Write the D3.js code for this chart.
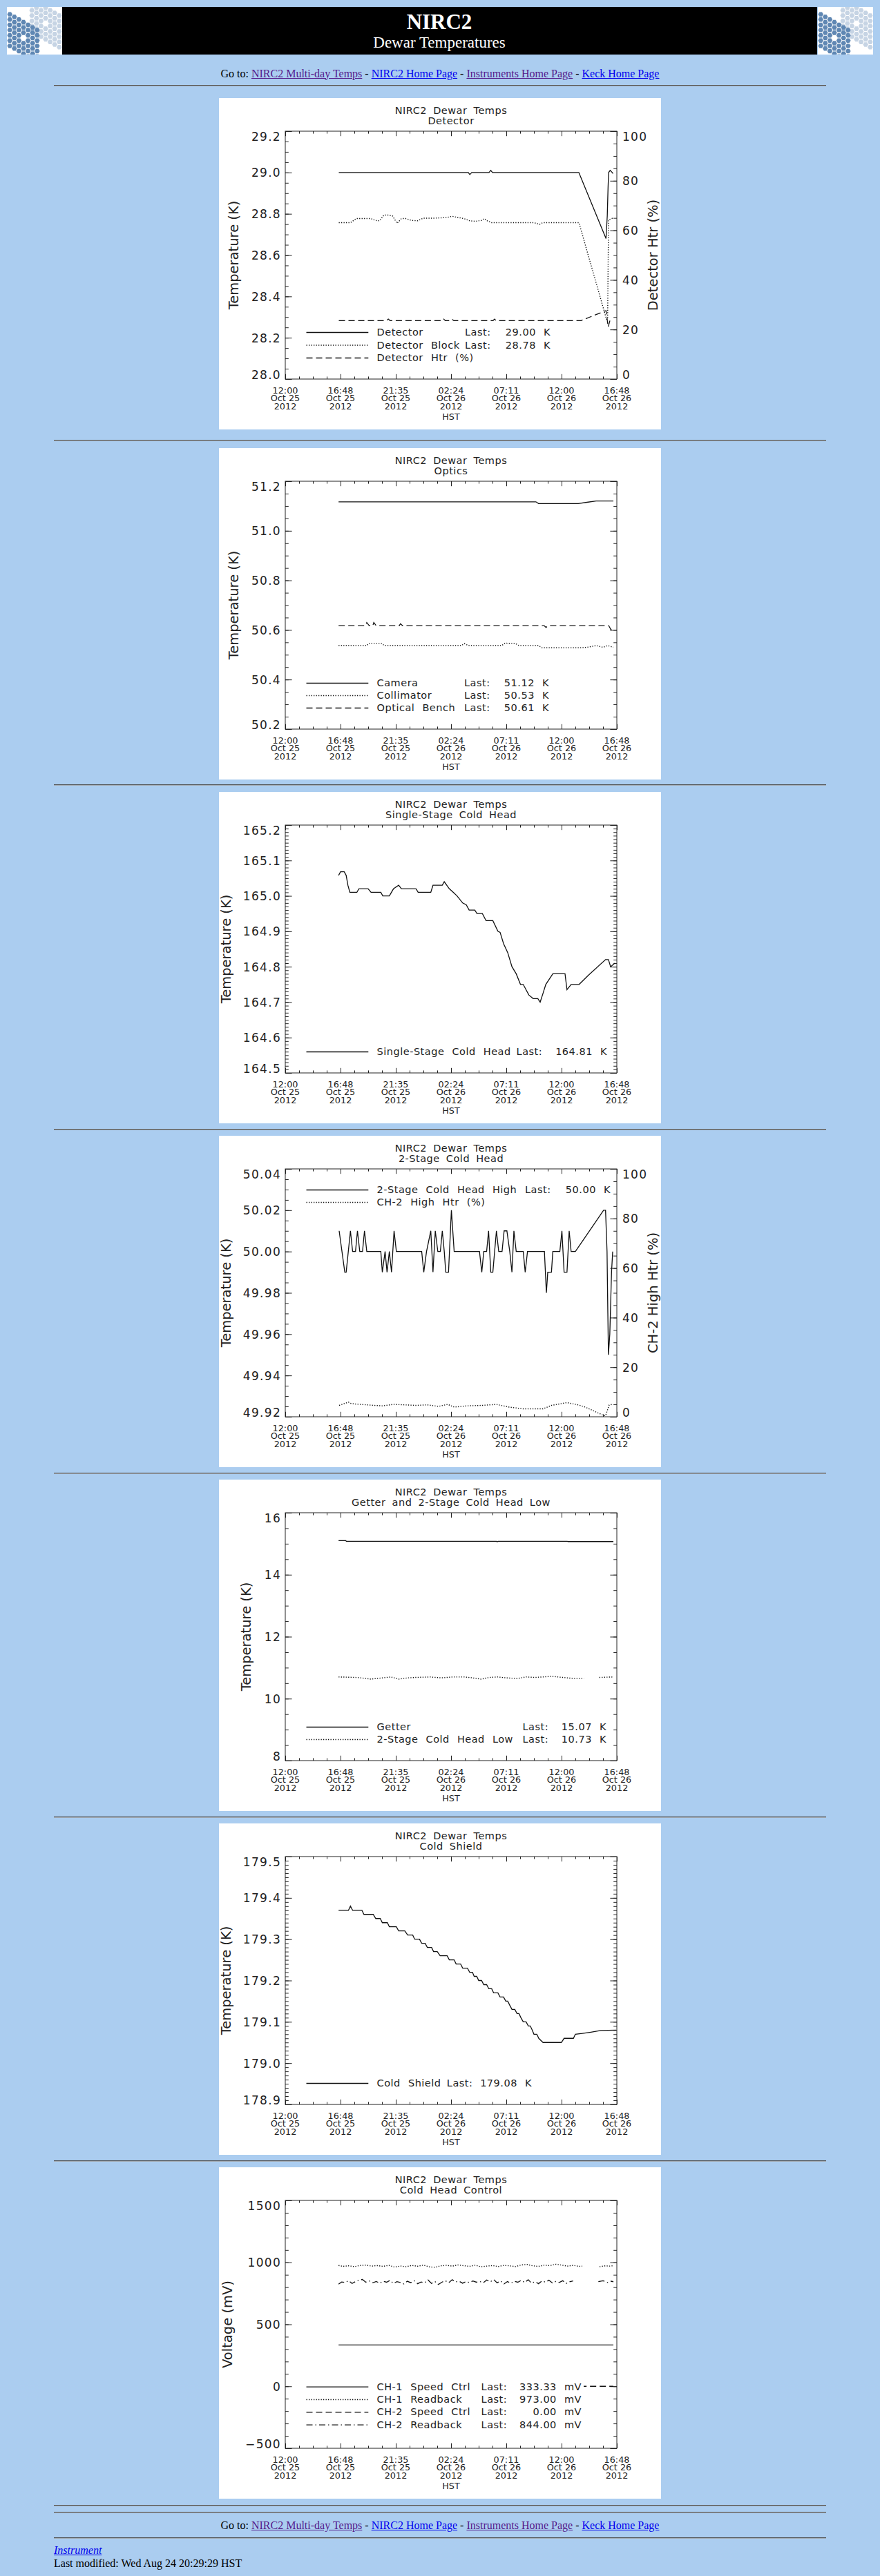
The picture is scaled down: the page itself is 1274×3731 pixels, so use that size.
<!DOCTYPE html>
<html>
<head>
<meta charset="utf-8">
<title>NIRC2 Dewar Temperatures</title>
<script src="https://cdn.jsdelivr.net/npm/d3@7"></script>
<style>
  body { margin: 0; background: #abcdf0; width: 1274px; height: 3731px; position: relative;
         font-family: "Liberation Serif", "Times New Roman", serif; font-size: 16px; overflow: hidden; }
  .line16 { position: absolute; line-height: 20px; white-space: nowrap; }
  .goto { left: 0; width: 1274px; text-align: center; }
  a { color: #0000ee; }
  a.v { color: #551a8b; }
  .hr { position: absolute; left: 78px; width: 1118px; height: 0; border-top: 1px solid #505050; border-bottom: 1px solid #a0a8b0; }
  svg.panel { position: absolute; left: 317px; }
  svg.panel text { font-family: "DejaVu Sans", sans-serif; fill: #222; }
  .ttl { font-size: 14.5px; letter-spacing: 0.5px; word-spacing: 4px; text-anchor: middle; }
  .lg { font-size: 14.5px; letter-spacing: 0.5px; word-spacing: 6px; }
  .xl { font-size: 12.8px; text-anchor: middle; }
  .ytl { font-size: 19.5px; text-anchor: middle; }
</style>
</head>
<body>
<svg id="banner" width="1274" height="90" style="position:absolute;left:0;top:0"></svg>
<div class="line16 goto" style="top:96.5px">Go to: <a class="v" href="#">NIRC2 Multi-day Temps</a> - <a href="#">NIRC2 Home Page</a> - <a class="v" href="#">Instruments Home Page</a> - <a href="#">Keck Home Page</a></div>
<div class="hr" style="top:123px"></div>

<div class="hr" style="top:3628px"></div>
<div class="hr" style="top:3638px"></div>
<div class="line16 goto" style="top:3648px">Go to: <a class="v" href="#">NIRC2 Multi-day Temps</a> - <a href="#">NIRC2 Home Page</a> - <a class="v" href="#">Instruments Home Page</a> - <a href="#">Keck Home Page</a></div>
<div class="hr" style="top:3675px"></div>
<div class="line16" style="left:78px;top:3684px"><a href="#"><i>Instrument</i></a></div>
<div class="line16" style="left:78px;top:3703px">Last modified: Wed Aug 24 20:29:29 HST</div>

<script>
// ---- time axis: hours since 12:00 Oct 25 2012 (HST) ----
const xDomain = [0, 28.8];
const xMajorStep = 4.8;   // 4h48m
const xMinorStep = 1.2;
const xTickLabels = [
  ['12:00', 'Oct 25', '2012'], ['16:48', 'Oct 25', '2012'], ['21:35', 'Oct 25', '2012'],
  ['02:24', 'Oct 26', '2012'], ['07:11', 'Oct 26', '2012'], ['12:00', 'Oct 26', '2012'],
  ['16:48', 'Oct 26', '2012']
];
const mainTitle = 'NIRC2 Dewar Temps';

// ---- Detector ----
const detector = [[4.65, 29.00], [15.9, 29.00], [16.03, 28.99], [16.2, 29.00], [17.7, 29.00], [17.85, 29.01],
  [18.0, 29.00], [25.5, 29.00], [27.86, 28.68], [27.97, 28.79], [28.04, 28.93], [28.09, 29.00], [28.22, 29.01],
  [28.4, 29.00], [28.47, 28.995]];
const detectorBlock = [[4.65, 28.757], [5.66, 28.757], [6.17, 28.777], [7.43, 28.777], [7.81, 28.768], [8.19, 28.766],
  [8.57, 28.794], [8.95, 28.794], [9.33, 28.789], [9.71, 28.754], [10.09, 28.777], [10.47, 28.777], [10.97, 28.768],
  [11.48, 28.766], [11.99, 28.779], [13.0, 28.779], [14.01, 28.782], [14.51, 28.788], [15.02, 28.782], [15.52, 28.777],
  [16.03, 28.766], [16.54, 28.764], [17.04, 28.768], [17.29, 28.777], [17.55, 28.766], [17.93, 28.757], [21.59, 28.757],
  [22.1, 28.749], [22.35, 28.757], [25.51, 28.757], [27.9, 28.29], [28.0, 28.29], [28.08, 28.77], [28.47, 28.78]];
const detectorHtr = [[4.65, 23.6], [8.8, 23.6], [8.95, 24.2], [9.1, 23.6], [13.6, 23.6], [13.75, 24.2], [13.9, 23.6],
  [14.4, 23.6], [14.51, 24.0], [14.65, 23.6], [18.05, 23.6], [18.18, 24.2], [18.3, 23.6], [25.7, 23.6], [27.7, 27.3],
  [27.86, 27.6], [28.05, 21.0], [28.2, 23.6], [28.47, 24.0]];
const detectorNames = ['Detector', 'Detector Block', 'Detector Htr (%)'];
const detectorLast = [29.00, 28.78, null];

// ---- Optics ----
const camera = [[4.63, 51.117], [21.77, 51.117], [22.0, 51.11], [25.45, 51.11], [26.2, 51.115], [27.0, 51.12], [28.5, 51.12]];
const collimator = [[4.63, 50.537], [7.1, 50.537], [7.2, 50.545], [8.4, 50.545], [8.6, 50.537], [15.3, 50.537],
  [15.55, 50.545], [15.9, 50.537], [18.8, 50.537], [19.1, 50.547], [20.0, 50.545], [20.3, 50.537], [22.0, 50.537],
  [22.3, 50.528], [25.6, 50.528], [26.2, 50.53], [27.0, 50.537], [27.6, 50.53], [28.0, 50.537], [28.5, 50.53]];
const opticalBench = [[4.63, 50.617], [6.95, 50.617], [7.08, 50.63], [7.3, 50.617], [7.6, 50.617], [7.69, 50.63],
  [7.9, 50.617], [9.9, 50.617], [10.0, 50.625], [10.2, 50.617], [22.5, 50.617], [22.65, 50.61], [22.8, 50.617],
  [28.1, 50.617], [28.3, 50.60], [28.5, 50.61]];
const opticsNames = ['Camera', 'Collimator', 'Optical Bench'];
const opticsLast = [51.12, 50.53, 50.61];

// ---- Single-stage cold head ----
const singleStage = [[4.63, 165.058], [4.80, 165.068], [5.12, 165.068], [5.29, 165.058], [5.44, 165.03], [5.61, 165.01],
  [6.22, 165.01], [6.39, 165.02], [7.20, 165.02], [7.45, 165.01], [8.30, 165.01], [8.47, 165.00], [9.04, 165.00],
  [9.40, 165.02], [9.85, 165.03], [10.09, 165.02], [11.36, 165.02], [11.54, 165.01], [12.64, 165.01], [12.83, 165.03],
  [13.64, 165.03], [13.81, 165.04], [14.25, 165.02], [14.60, 165.01], [14.92, 165.00], [15.41, 164.98], [15.72, 164.975],
  [15.97, 164.96], [16.46, 164.96], [16.65, 164.95], [17.12, 164.95], [17.44, 164.93], [18.03, 164.93], [18.47, 164.90],
  [18.66, 164.897], [18.96, 164.865], [19.32, 164.84], [19.69, 164.80], [20.06, 164.78], [20.43, 164.75], [20.67, 164.75],
  [21.16, 164.72], [21.53, 164.71], [21.94, 164.71], [22.14, 164.70], [22.39, 164.725], [22.63, 164.75], [23.24, 164.78],
  [24.30, 164.78], [24.47, 164.735], [24.83, 164.75], [25.52, 164.75], [26.30, 164.775], [27.82, 164.82], [28.07, 164.82],
  [28.26, 164.80], [28.63, 164.81]];
const singleNames = ['Single-Stage Cold Head'];
const singleLast = [164.81];

// ---- 2-stage cold head ----
const twoStageHigh = [[4.68, 50.01], [5.17, 49.99], [5.29, 49.99], [5.66, 50.01], [5.85, 50.00], [6.10, 50.00], [6.27, 50.01],
  [6.47, 50.00], [6.71, 50.00], [6.88, 50.01], [7.08, 50.00], [8.30, 50.00], [8.43, 49.99], [8.67, 50.00], [8.84, 49.99],
  [9.04, 50.00], [9.23, 49.99], [9.45, 50.01], [9.65, 50.00], [11.85, 50.00], [12.03, 49.99], [12.27, 50.00], [12.64, 50.01],
  [12.83, 49.99], [13.03, 50.01], [13.25, 50.00], [13.47, 50.00], [13.64, 50.01], [13.81, 50.00], [13.94, 49.99],
  [14.18, 49.99], [14.43, 50.02], [14.67, 50.00], [16.87, 50.00], [17.07, 49.99], [17.24, 50.00], [17.49, 50.00],
  [17.66, 50.01], [17.85, 49.99], [18.03, 49.99], [18.34, 50.01], [18.54, 50.00], [18.83, 50.00], [19.01, 50.01],
  [19.25, 50.01], [19.50, 50.00], [19.69, 49.99], [19.86, 50.01], [20.06, 50.00], [20.67, 50.00], [20.84, 49.99],
  [21.04, 50.00], [22.51, 50.00], [22.68, 49.98], [22.80, 49.99], [23.12, 49.99], [23.24, 50.00], [23.85, 50.00],
  [24.03, 50.01], [24.22, 49.99], [24.47, 49.99], [24.66, 50.01], [24.83, 50.00], [25.20, 50.00], [27.65, 50.02],
  [27.82, 50.02], [27.95, 50.00], [28.02, 49.97], [28.07, 49.95], [28.19, 49.96], [28.34, 49.99], [28.44, 50.00]];
const ch2HighHtr = [[4.68, 4.6], [5.49, 5.9], [5.73, 5.3], [6.47, 5.0], [7.69, 4.6], [8.43, 4.4], [9.40, 5.0], [11.36, 4.6],
  [12.34, 4.8], [13.32, 4.2], [14.11, 5.0], [14.67, 3.9], [15.77, 4.4], [17.12, 4.6], [18.34, 5.0], [19.45, 3.9],
  [20.67, 3.2], [22.39, 3.2], [23.12, 4.6], [24.47, 5.7], [25.45, 4.8], [26.06, 3.9], [27.53, 0.8], [27.82, 0.4],
  [28.14, 4.8], [28.44, 5.0]];
const twoStageNames = ['2-Stage Cold Head High', 'CH-2 High Htr (%)'];
const twoStageLast = [50.00, null];

// ---- Getter and 2-stage low ----
const getter = [[4.63, 15.10], [5.25, 15.10], [5.3, 15.08], [18.35, 15.08], [18.4, 15.06], [18.5, 15.08], [24.5, 15.08],
  [24.55, 15.07], [28.5, 15.07]];
const twoStageLow = [[4.63, 10.70], [6.10, 10.685], [6.59, 10.67], [7.45, 10.63], [8.43, 10.67], [9.16, 10.70], [9.89, 10.63],
  [10.63, 10.67], [11.36, 10.685], [12.59, 10.70], [13.57, 10.67], [14.55, 10.70], [15.53, 10.70], [16.26, 10.67],
  [17.0, 10.63], [17.73, 10.685], [18.47, 10.70], [19.2, 10.67], [20.18, 10.65], [20.92, 10.70], [21.65, 10.685],
  [22.39, 10.70], [23.12, 10.72], [24.1, 10.685], [25.08, 10.65], [25.94, 10.65], [26.2, null], [27.28, 10.685], [28.5, 10.70]];
const getterNames = ['Getter', '2-Stage Cold Head Low'];
const getterLast = [15.07, 10.73];

// ---- Cold shield ----
const coldShield = [[4.63, 179.37], [5.49, 179.37], [5.66, 179.38], [5.85, 179.37], [6.66, 179.37], [6.83, 179.36],
  [7.64, 179.36], [7.86, 179.35], [8.25, 179.35], [8.43, 179.34], [8.87, 179.34], [9.04, 179.33], [9.65, 179.33],
  [9.85, 179.32], [10.38, 179.32], [10.63, 179.31], [11.07, 179.31], [11.24, 179.30], [11.66, 179.30], [11.85, 179.29],
  [12.15, 179.29], [12.34, 179.28], [12.71, 179.28], [12.88, 179.27], [13.20, 179.27], [13.45, 179.26], [14.06, 179.26],
  [14.25, 179.25], [14.67, 179.25], [14.84, 179.24], [15.23, 179.24], [15.41, 179.23], [15.82, 179.23], [16.02, 179.22],
  [16.26, 179.22], [16.41, 179.21], [16.63, 179.21], [16.80, 179.20], [17.05, 179.20], [17.24, 179.19], [17.49, 179.19],
  [17.68, 179.18], [17.93, 179.18], [18.10, 179.17], [18.47, 179.17], [18.66, 179.16], [18.96, 179.16], [19.15, 179.15],
  [19.32, 179.15], [19.50, 179.14], [19.69, 179.13], [19.94, 179.13], [20.13, 179.12], [20.30, 179.12], [20.47, 179.11],
  [20.67, 179.10], [20.92, 179.10], [21.11, 179.09], [21.28, 179.09], [21.45, 179.08], [21.60, 179.07], [21.85, 179.07],
  [22.02, 179.06], [22.39, 179.05], [23.98, 179.05], [24.22, 179.06], [25.03, 179.06], [25.20, 179.07], [25.81, 179.072],
  [26.55, 179.075], [27.41, 179.079], [28.75, 179.08]];
const coldShieldNames = ['Cold Shield'];
const coldShieldLast = [179.08];

// ---- Cold head control (mV) ----
const ch1Speed = [[4.63, 333.33], [28.5, 333.33]];
const ch1Readback = [[4.63, 975], [5.0, 968], [5.5, 972], [6.0, 966], [6.5, 975], [7.0, 978], [7.5, 970], [8.0, 974],
  [8.5, 968], [9.0, 976], [9.5, 962], [10.0, 971], [10.5, 965], [11.0, 975], [11.5, 969], [12.0, 978], [12.5, 964],
  [13.0, 960], [13.5, 972], [14.0, 976], [14.5, 970], [15.0, 979], [15.5, 973], [16.0, 968], [16.5, 977], [17.0, 965],
  [17.5, 970], [18.0, 974], [18.5, 967], [19.0, 976], [19.5, 972], [20.0, 966], [20.5, 979], [21.0, 983], [21.5, 972],
  [22.0, 968], [22.5, 977], [23.0, 974], [23.5, 985], [24.0, 978], [24.5, 970], [25.0, 976], [25.5, 968], [25.8, 970],
  [26.0, null], [27.3, 965], [27.8, 972], [28.2, 970], [28.5, 973]];
const ch2Speed = [[4.63, 0], [28.5, 0]];
const ch2Readback = [[4.63, 825], [4.9, 842], [5.2, 838], [5.5, 852], [5.8, 830], [6.1, 845], [6.4, 858], [6.7, 862],
  [7.0, 840], [7.3, 850], [7.6, 835], [7.9, 846], [8.2, 832], [8.5, 848], [8.8, 840], [9.1, 855], [9.4, 830], [9.7, 845],
  [10.0, 838], [10.3, 826], [10.6, 848], [10.9, 836], [11.2, 852], [11.5, 828], [11.8, 842], [12.1, 835], [12.4, 858],
  [12.7, 830], [13.0, 846], [13.3, 822], [13.6, 840], [13.9, 852], [14.2, 836], [14.5, 860], [14.8, 842], [15.1, 848],
  [15.4, 832], [15.7, 845], [16.0, 838], [16.3, 850], [16.6, 840], [16.9, 846], [17.2, 835], [17.5, 858], [17.8, 842],
  [18.1, 862], [18.4, 835], [18.7, 850], [19.0, 826], [19.3, 845], [19.6, 832], [19.9, 848], [20.2, 840], [20.5, 855],
  [20.8, 838], [21.1, 860], [21.4, 832], [21.7, 845], [22.0, 828], [22.3, 850], [22.6, 840], [22.9, 856], [23.2, 834],
  [23.5, 846], [23.8, 838], [24.1, 852], [24.4, 830], [24.7, 844], [25.0, 850], [25.2, null], [25.8, 840], [26.0, null],
  [27.2, 845], [27.6, 852], [28.0, 838], [28.3, 848], [28.5, 844]];
const controlNames = ['CH-1 Speed Ctrl', 'CH-1 Readback', 'CH-2 Speed Ctrl', 'CH-2 Readback'];
const controlLast = [333.33, 973.00, 0.00, 844.00];

// ---- chart layout (image pixel frame 640 x 480 like the IDL plots) ----
const P = {left: 96, right: 576, top: 48, bottom: 407};
const dashes = {solid: null, dot: '1.3 2.2', dash: '9 5', dashdot: '9 4 1.5 4'};

const charts = [
  {top: 142, sub: 'Detector', yDomain: [28.0, 29.2], yStep: 0.2, yMinor: 0.05, yFmt: '.1f', yTitle: 'Temperature (K)', yTitleX: 28.4,
   right: {domain: [0, 100], step: 20, minor: 5, fmt: 'd', title: 'Detector Htr (%)', titleX: 635},
   series: [{data: detector, style: 'solid'}, {data: detectorBlock, style: 'dot'}, {data: detectorHtr, style: 'dash', axis: 'right'}],
   legend: {names: detectorNames, last: detectorLast, styles: ['solid', 'dot', 'dash'], y: [344, 362.5, 381], lastX: 356, valEnd: 480, unit: 'K', fmt: '.2f'}},
  {top: 649, sub: 'Optics', yDomain: [50.2, 51.2], yStep: 0.2, yMinor: 0.05, yFmt: '.1f', yTitle: 'Temperature (K)', yTitleX: 27.5,
   series: [{data: camera, style: 'solid'}, {data: collimator, style: 'dot'}, {data: opticalBench, style: 'dash'}],
   legend: {names: opticsNames, last: opticsLast, styles: ['solid', 'dot', 'dash'], y: [345, 363, 381], lastX: 355, valEnd: 478, unit: 'K', fmt: '.2f'}},
  {top: 1147, sub: 'Single-Stage Cold Head', yDomain: [164.5, 165.2], yStep: 0.1, yMinor: 0.01, yFmt: '.1f', yTitle: 'Temperature (K)', yTitleX: 17,
   series: [{data: singleStage, style: 'solid'}],
   legend: {names: singleNames, last: singleLast, styles: ['solid'], y: [381], lastX: 430.6, valEnd: 562, unit: 'K', fmt: '.2f'}},
  {top: 1645, sub: '2-Stage Cold Head', yDomain: [49.92, 50.04], yStep: 0.02, yMinor: 0.005, yFmt: '.2f', yTitle: 'Temperature (K)', yTitleX: 17,
   right: {domain: [0, 100], step: 20, minor: 5, fmt: 'd', title: 'CH-2 High Htr (%)', titleX: 635},
   series: [{data: twoStageHigh, style: 'solid'}, {data: ch2HighHtr, style: 'dot', axis: 'right'}],
   legend: {names: twoStageNames, last: twoStageLast, styles: ['solid', 'dot'], y: [83, 101], lastX: 443, valEnd: 567, unit: 'K', fmt: '.2f'}},
  {top: 2143, sub: 'Getter and 2-Stage Cold Head Low', yDomain: [8, 16], yStep: 2, yMinor: 0.5, yFmt: 'd', yTitle: 'Temperature (K)', yTitleX: 46,
   series: [{data: getter, style: 'solid'}, {data: twoStageLow, style: 'dot'}],
   legend: {names: getterNames, last: getterLast, styles: ['solid', 'dot'], y: [363, 381], lastX: 439.5, valEnd: 561, unit: 'K', fmt: '.2f'}},
  {top: 2641, sub: 'Cold Shield', yDomain: [178.9, 179.5], yStep: 0.1, yMinor: 0.01, yFmt: '.1f', yTitle: 'Temperature (K)', yTitleX: 17,
   series: [{data: coldShield, style: 'solid'}],
   legend: {names: coldShieldNames, last: coldShieldLast, styles: ['solid'], y: [381], lastX: 329.8, valEnd: 453, unit: 'K', fmt: '.2f'}},
  {top: 3139, sub: 'Cold Head Control', yDomain: [-500, 1500], yStep: 500, yMinor: 100, yFmt: 'd', yTitle: 'Voltage (mV)', yTitleX: 19.4,
   series: [{data: ch1Speed, style: 'solid'}, {data: ch1Readback, style: 'dot'}, {data: ch2Speed, style: 'dash'}, {data: ch2Readback, style: 'dashdot'}],
   legend: {names: controlNames, last: controlLast, styles: ['solid', 'dot', 'dash', 'dashdot'], y: [322.7, 341, 359.3, 377.7], lastX: 379.6, valEnd: 525, unit: 'mV', fmt: '.2f'}}
];
const hrTops = [637, 1136, 1635, 2133, 2631, 3129];

// ---- banner ----
const banner = d3.select('#banner');
function drawLogo(x0) {
  const g = banner.append('g').attr('transform', `translate(${x0},10)`);
  const cid = 'logo' + x0;
  g.append('clipPath').attr('id', cid).append('rect').attr('width', 80).attr('height', 69);
  g.append('rect').attr('width', 80).attr('height', 69).attr('fill', '#fff');
  const inner = g.append('g').attr('clip-path', `url(#${cid})`);
  const cells = [];
  for (let q = -3; q <= 3; q++) for (let r = -3; r <= 3; r++) {
    const d = Math.max(Math.abs(q), Math.abs(r), Math.abs(q + r));
    if (d >= 1) cells.push([q, r]);
  }
  const s = 4.4;
  const hex = (cx, cy, rr) => d3.range(6).map(k => {
    const a = Math.PI / 3 * k;
    return [cx + rr * Math.cos(a), cy + rr * Math.sin(a)];
  });
  [[56, 24, '#c6d4e4'], [24, 45, '#5f87b3']].forEach(([mx, my, col]) => {
    inner.selectAll(null).data(cells).join('polygon')
      .attr('points', ([q, r]) => hex(mx + s * 1.5 * q, my + s * Math.sqrt(3) * (r + q / 2), s * 0.86).join(' '))
      .attr('fill', col);
  });
}
drawLogo(10);
drawLogo(1184);
banner.append('rect').attr('x', 90).attr('y', 10).attr('width', 1093).attr('height', 69).attr('fill', '#000');
banner.append('text').attr('x', 636).attr('y', 42).attr('text-anchor', 'middle').attr('fill', '#fff')
  .style('font-family', '"Liberation Serif", serif').style('font-size', '31px').style('font-weight', 'bold').text('NIRC2');
banner.append('text').attr('x', 636).attr('y', 69).attr('text-anchor', 'middle').attr('fill', '#fff')
  .style('font-family', '"Liberation Serif", serif').style('font-size', '23px').text('Dewar Temperatures');

hrTops.forEach(t => d3.select('body').append('div').attr('class', 'hr').style('top', t + 'px'));

// ---- charts ----
const x = d3.scaleLinear().domain(xDomain).range([P.left, P.right]);
const xMajors = d3.range(xTickLabels.length).map(i => i * xMajorStep);
const xMinors = d3.range(Math.round(xDomain[1] / xMinorStep) + 1).map(i => i * xMinorStep);

function stepTicks(domain, step) {
  const n = Math.round((domain[1] - domain[0]) / step);
  return d3.range(n + 1).map(i => domain[0] + i * step);
}

function styleAxis(g) {
  g.attr('color', '#222').attr('font-family', null).attr('font-size', null);
  g.select('.domain').remove();
}

function yAxis(svg, scale, side, step, minor, fmt) {
  const xPos = side === 'left' ? P.left : P.right;
  const mk = side === 'left' ? d3.axisLeft : d3.axisRight;
  svg.append('g').attr('transform', `translate(${xPos},0)`)
    .call(mk(scale).tickValues(stepTicks(scale.domain(), minor)).tickSize(-4.8).tickFormat(''))
    .call(styleAxis);
  const g = svg.append('g').attr('transform', `translate(${xPos},0)`)
    .call(mk(scale).tickValues(stepTicks(scale.domain(), step)).tickSize(-9.6).tickPadding(side === 'left' ? 6 : 8)
      .tickFormat(fmt ? d3.format(fmt) : ''))
    .call(styleAxis);
  const texts = g.selectAll('text')
    .text(function () { return this.textContent.replace('-', '\u2212'); })
    .style('font-size', '17px').style('letter-spacing', '1.3px');
  const n = texts.size();
  texts.attr('dy', (d, i) => i === 0 ? '-0.02em' : i === n - 1 ? '0.8em' : '0.36em');
  return g;
}

charts.forEach((c, ci) => {
  const svg = d3.select('body').append('svg').attr('class', 'panel')
    .style('top', c.top + 'px').attr('width', 640).attr('height', 480);
  svg.append('rect').attr('width', 640).attr('height', 480).attr('fill', '#fff');

  const y = d3.scaleLinear().domain(c.yDomain).range([P.bottom, P.top]);
  const yR = c.right ? d3.scaleLinear().domain(c.right.domain).range([P.bottom, P.top]) : null;

  svg.append('text').attr('class', 'ttl').attr('x', 336).attr('y', 23.3).text(mainTitle);
  svg.append('text').attr('class', 'ttl').attr('x', 336).attr('y', 37.7).text(c.sub);

  // x ticks, bottom and top
  [[d3.axisBottom, P.bottom], [d3.axisTop, P.top]].forEach(([mk, yy]) => {
    svg.append('g').attr('transform', `translate(0,${yy})`)
      .call(mk(x).tickValues(xMinors).tickSize(-3.6).tickFormat('')).call(styleAxis);
    svg.append('g').attr('transform', `translate(0,${yy})`)
      .call(mk(x).tickValues(xMajors).tickSize(-7.2).tickFormat('')).call(styleAxis);
  });
  const xl = svg.append('g').selectAll('text').data(xTickLabels).join('text')
    .attr('class', 'xl').attr('x', (d, i) => x(xMajors[i]));
  [427.7, 439.3, 450.7].forEach((yy, k) => {
    xl.append('tspan').attr('x', (d, i) => x(xMajors[i])).attr('y', yy).text(d => d[k]);
  });
  svg.append('text').attr('class', 'xl').attr('x', 336).attr('y', 466).text('HST');

  // y axes
  yAxis(svg, y, 'left', c.yStep, c.yMinor, c.yFmt);
  svg.append('text').attr('class', 'ytl')
    .attr('transform', `translate(${c.yTitleX},${(P.top + P.bottom) / 2}) rotate(-90)`).text(c.yTitle);
  if (c.right) {
    yAxis(svg, yR, 'right', c.right.step, c.right.minor, c.right.fmt);
    svg.append('text').attr('class', 'ytl')
      .attr('transform', `translate(${c.right.titleX},${(P.top + P.bottom) / 2}) rotate(-90)`).text(c.right.title);
  } else {
    yAxis(svg, y, 'right', c.yStep, c.yMinor, null);
  }
  svg.append('rect').attr('x', P.left).attr('y', P.top).attr('width', P.right - P.left).attr('height', P.bottom - P.top)
    .attr('fill', 'none').attr('stroke', '#222').attr('stroke-width', 1);

  // data
  const clipId = 'clip' + ci;
  svg.append('clipPath').attr('id', clipId).append('rect')
    .attr('x', P.left).attr('y', P.top).attr('width', P.right - P.left).attr('height', P.bottom - P.top);
  const dg = svg.append('g').attr('clip-path', `url(#${clipId})`);
  c.series.forEach(s => {
    const ys = s.axis === 'right' ? yR : y;
    const line = d3.line().defined(d => d[1] != null).x(d => x(d[0])).y(d => ys(d[1]));
    dg.append('path').datum(s.data).attr('d', line).attr('fill', 'none').attr('stroke', '#111')
      .attr('stroke-width', s.style === 'dot' ? 1.4 : 1.3).attr('stroke-dasharray', dashes[s.style]);
  });

  // legend (IDL style, with cleared background)
  const L = c.legend;
  const lg = svg.append('g');
  const vf = d3.format(L.fmt);
  L.names.forEach((name, i) => {
    const yb = L.y[i];
    lg.append('line').attr('x1', 126.5).attr('x2', 216.3).attr('y1', yb - 4.5).attr('y2', yb - 4.5)
      .attr('stroke', '#111').attr('stroke-width', 1.3).attr('stroke-dasharray', dashes[L.styles[i]]);
    lg.append('text').attr('class', 'lg').attr('x', 228.6).attr('y', yb).text(name);
    if (L.last[i] != null) {
      lg.append('text').attr('class', 'lg').attr('x', L.lastX).attr('y', yb).text('Last:');
      lg.append('text').attr('class', 'lg').attr('x', L.valEnd).attr('y', yb).attr('text-anchor', 'end')
        .text(vf(L.last[i]) + ' ' + L.unit);
    }
  });
  const bb = lg.node().getBBox();
  lg.insert('rect', ':first-child').attr('x', bb.x - 3).attr('y', bb.y - 2)
    .attr('width', bb.width + 6).attr('height', bb.height + 3).attr('fill', '#fff');
});
</script>
</body>
</html>
